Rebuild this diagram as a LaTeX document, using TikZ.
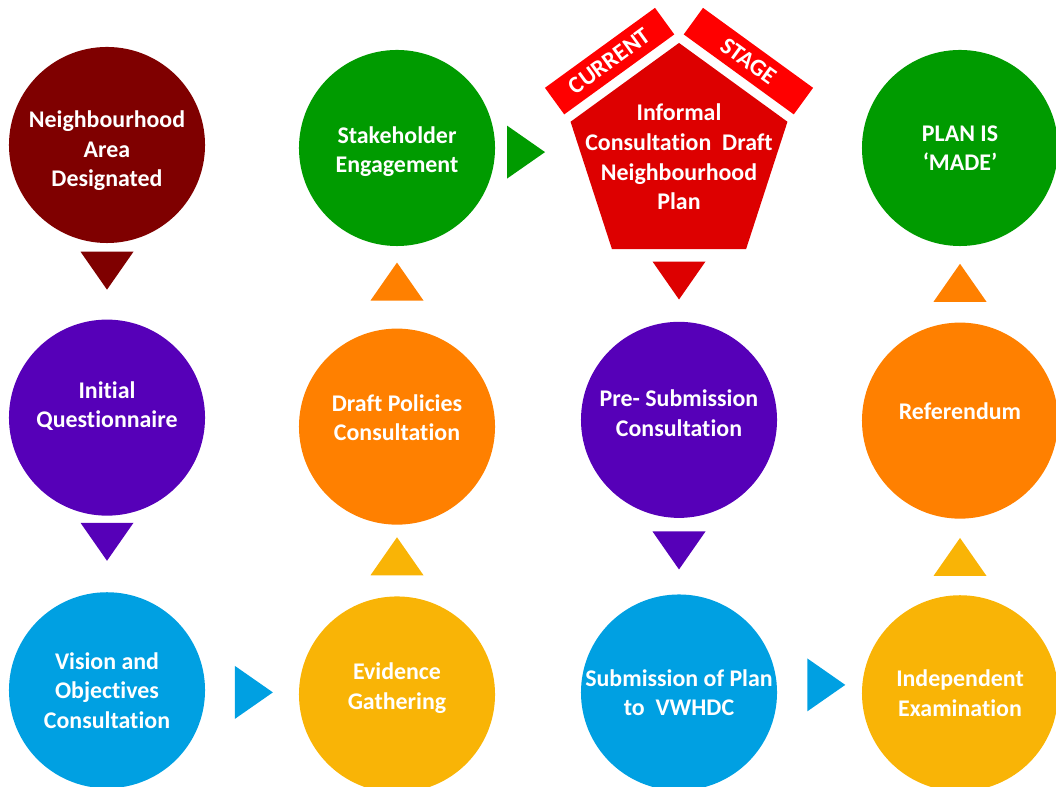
\documentclass[tikz,border=0pt]{standalone}
\usepackage{fontspec}
\setmainfont{Carlito}[Ligatures=NoCommon]
\usetikzlibrary{positioning,shapes.geometric,calc}

\definecolor{areamaroon}{RGB}{127,0,0}
\definecolor{stagepurple}{RGB}{86,0,184}
\definecolor{stageblue}{RGB}{0,160,226}
\definecolor{stageamber}{RGB}{249,180,6}
\definecolor{stageorange}{RGB}{255,128,0}
\definecolor{stagegreen}{RGB}{0,155,0}
\definecolor{currentred}{RGB}{221,0,0}
\definecolor{flagred}{RGB}{255,0,0}

\begin{document}
\begin{tikzpicture}[x=0.025cm, y=0.025cm, node distance=1.9cm,
        stage/.style={circle, fill=#1, minimum size=4.9cm, inner sep=0pt,
            align=center, text=white, font=\bfseries\fontsize{17}{21}\selectfont},
        pentagon/.style={regular polygon, regular polygon sides=5, fill=currentred,
            minimum size=5.7cm, inner sep=0pt},
        flag/.style={rectangle, fill=flagred, text=white, minimum width=3.4cm,
            minimum height=0.82cm, inner sep=0pt, font=\bfseries\fontsize{17}{21}\selectfont},
        pointer/.pic={\fill (-19,26.5) -- (19,0) -- (-19,-26.5) -- cycle;}]
        \useasboundingbox (0,0) rectangle (1056,787);

        % NODES
        % -----------------

        % top row
        \node[stage=areamaroon, text height=2.18cm] (nad) at (107,642) {Neighbourhood\\Area\\Designated};
        \node[stage=stagegreen, text height=1.35cm] (se) at (397,639) {Stakeholder\\Engagement};
        \node[pentagon] (cd) at (679,630) {};
        \node[align=center, text=white, font=\bfseries\fontsize{17}{21}\selectfont] (cdtext) at (cd.center)
            {Informal\\Consultation\ \ Draft\\Neighbourhood\\Plan};
        \node[stage=stagegreen] (made) at (960,639) {PLAN IS\\‘MADE’};

        % middle row
        \node[stage=stagepurple, below=of nad, text depth=0.66cm] (iq) {Initial\\Questionnaire};
        \node[stage=stageorange, below=of se, yshift=-0.15cm, text depth=0.45cm] (dpc) {Draft Policies\\Consultation};
        \node[stage=stagepurple, below=1.8cm of cd.side 3, text depth=0.35cm] (psc) {Pre- Submission\\Consultation};
        \node[stage=stageorange, below=of made, text depth=0.5cm] (ref) {Referendum};

        % bottom row
        \node[stage=stageblue, below=of iq] (voc) {Vision and\\Objectives\\Consultation};
        \node[stage=stageamber, below=of dpc, yshift=0.12cm, text depth=0.43cm] (eg) {Evidence\\Gathering};
        \node[stage=stageblue, below=of psc] (sub) {Submission of Plan\\to\ \ VWHDC};
        \node[stage=stageamber, below=of ref] (ie) {Independent\\Examination};

        % FLAGS
        % -----------------
        \node[flag, rotate=36] (flagcur) at ($(cd.side 1)+(-15,21)$) {CURRENT};
        \node[flag, rotate=-36] (flagstage) at ($(cd.side 5)+(15,21)$) {STAGE};

        % POINTERS
        % -----------------
        \path (nad) -- pic[pos=0.36, rotate=-90, areamaroon] {pointer} (iq);
        \path (iq) -- pic[pos=0.34, rotate=-90, stagepurple] {pointer} (voc);
        \path (voc) -- pic[pos=0.52, stageblue] {pointer} (eg);
        \path (eg) -- pic[pos=0.56, rotate=90, stageamber] {pointer} (dpc);
        \path (dpc) -- pic[pos=0.57, rotate=90, stageorange] {pointer} (se);
        \path (se) -- pic[pos=0.36, stagegreen] {pointer} (cd);
        \path (cd) -- pic[pos=0.43, rotate=-90, currentred] {pointer} (psc);
        \path (psc) -- pic[pos=0.425, rotate=-90, stagepurple] {pointer} (sub);
        \path (sub) -- pic[pos=0.58, yshift=0.2cm, stageblue] {pointer} (ie);
        \path (ie) -- pic[pos=0.5, rotate=90, stageamber] {pointer} (ref);
        \path (ref) -- pic[pos=0.52, rotate=90, stageorange] {pointer} (made);

\end{tikzpicture}
\end{document}
